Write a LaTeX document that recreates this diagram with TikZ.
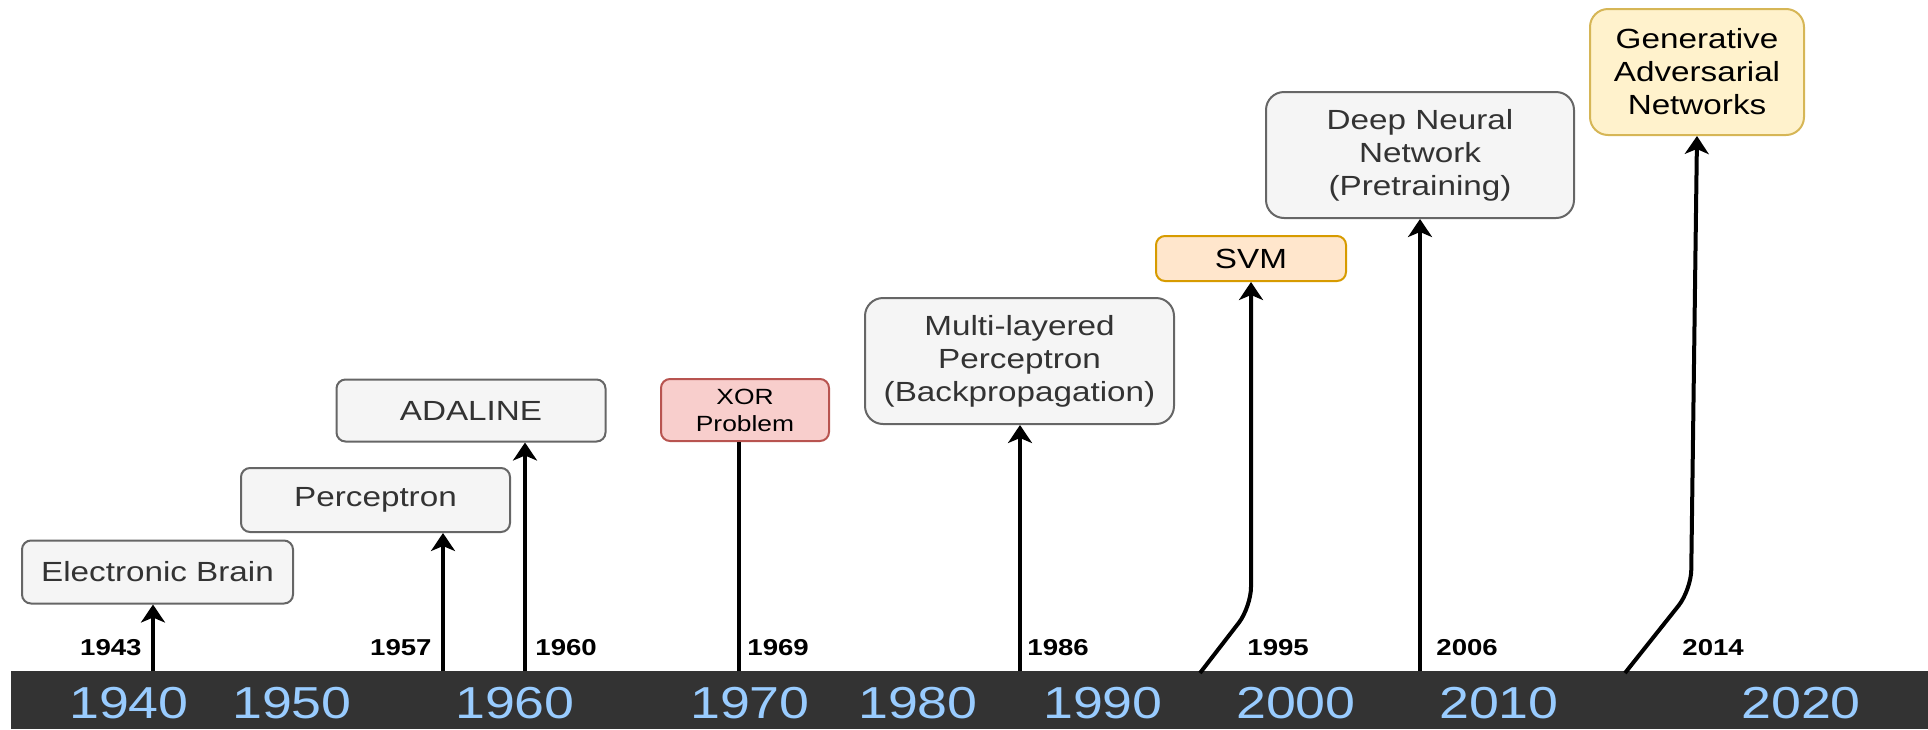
\documentclass[tikz,border=0pt]{standalone}
\usepackage{fontspec}
\setmainfont{Liberation Sans}[FakeStretch=1.2]
\usetikzlibrary{arrows.meta, positioning}

\definecolor{barGray}{HTML}{333333}
\definecolor{decBlue}{HTML}{99CCFF}
\definecolor{boxFill}{HTML}{F5F5F5}
\definecolor{boxLine}{HTML}{666666}
\definecolor{boxText}{HTML}{333333}
\definecolor{redFill}{HTML}{F8CECC}
\definecolor{redLine}{HTML}{B85450}
\definecolor{orangeFill}{HTML}{FFE6CC}
\definecolor{orangeLine}{HTML}{D79B00}
\definecolor{yellowFill}{HTML}{FFF2CC}
\definecolor{yellowLine}{HTML}{D6B656}

\begin{document}
\begin{tikzpicture}[
        x=0.5pt, y=-0.5pt,
        box/.style={rectangle, rounded corners=4.5pt, draw=boxLine, fill=boxFill, line width=1pt, text=boxText, inner sep=0pt, align=center, font=\fontsize{13.85}{16.5}\selectfont},
        bigbox/.style={box, rounded corners=9pt},
        arrow/.style={-{Stealth[length=9pt, width=12pt, inset=2.5pt]}, line width=2pt},
        link/.style={line width=2pt},
        decade/.style={text=decBlue, inner sep=0pt, font=\fontsize{22.4}{26}\selectfont},
        yearlbl/.style={inner sep=0pt, font=\bfseries\fontsize{11.5}{13}\selectfont}
    ]
    \useasboundingbox (0,0) rectangle (1928,729);

    % Time bar
    \fill[barGray] (11,671) rectangle (1928,729);
    \foreach \yr/\xx in {1940/129, 1950/292, 1960/515, 1970/750, 1980/918, 1990/1103, 2000/1296, 2010/1499, 2020/1801}
        \node[decade] (d\yr) at (\xx,703) {\yr};

    % Milestones
    \node (eb) [box, minimum width=135.5pt, minimum height=31.5pt] at (157.5,572) {Electronic Brain};
    \node (perc) [box, minimum width=134.5pt, minimum height=32pt] at (375.5,500) {Perceptron};
    \node (adaline) [box, minimum width=134.5pt, minimum height=31pt] at (471,410.5) {ADALINE};
    \node (xor) [box, fill=redFill, draw=redLine, text=black, minimum width=84pt, minimum height=31pt, font=\fontsize{11}{13.5}\selectfont] at (745,410) {XOR\\Problem};
    \node (mlp) [bigbox, minimum width=154.5pt, minimum height=63pt] at (1019.5,361) {Multi-layered\\Perceptron\\(Backpropagation)};
    \node (svm) [box, fill=orangeFill, draw=orangeLine, text=black, minimum width=95pt, minimum height=22.5pt] at (1251,258.5) {SVM};
    \node (dnn) [bigbox, minimum width=154pt, minimum height=63pt] at (1420,155) {Deep Neural\\Network\\(Pretraining)};
    \node (gan) [bigbox, fill=yellowFill, draw=yellowLine, text=black, minimum width=107pt, minimum height=63pt] at (1697,72) {Generative\\Adversarial\\Networks};

    % Points on the bar
    \coordinate (y1943) at (153,671);
    \coordinate (y1957) at (443,671);
    \coordinate (y1960) at (525,671);
    \coordinate (y1969) at (739,671);
    \coordinate (y1986) at (1020,671);
    \coordinate (y1995) at (1200,673);
    \coordinate (y2006) at (1420,671);
    \coordinate (y2014) at (1625,673);
    \coordinate (b1995) at (1251,607);
    \coordinate (b2014) at (1691,590);

    % Year labels
    \node (l1943) [yearlbl, anchor=east] at (142,648) {1943};
    \node (l1957) [yearlbl, anchor=east] at (432,648) {1957};
    \node (l1960) [yearlbl, anchor=west] at (535,648) {1960};
    \node (l1969) [yearlbl, anchor=west] at (747,648) {1969};
    \node (l1986) [yearlbl, anchor=west] at (1027,648) {1986};
    \node (l1995) [yearlbl, anchor=west] at (1247,648) {1995};
    \node (l2006) [yearlbl, anchor=west] at (1436,648) {2006};
    \node (l2014) [yearlbl, anchor=west] at (1682,648) {2014};

    % Connections
    \draw [arrow] (y1943) -- (y1943 |- eb.south);
    \draw [arrow] (y1957) -- (y1957 |- perc.south);
    \draw [arrow] (y1960) -- (y1960 |- adaline.south);
    \draw [link] (y1969) -- (y1969 |- xor.south);
    \draw [arrow] (y1986) -- (y1986 |- mlp.south);
    \draw [arrow, rounded corners=10pt] (y1995) -- (b1995) -- (svm.south);
    \draw [arrow] (y2006) -- (dnn.south);
    \draw [arrow, rounded corners=10pt] (y2014) -- (b2014) -- (gan.south);

\end{tikzpicture}
\end{document}
